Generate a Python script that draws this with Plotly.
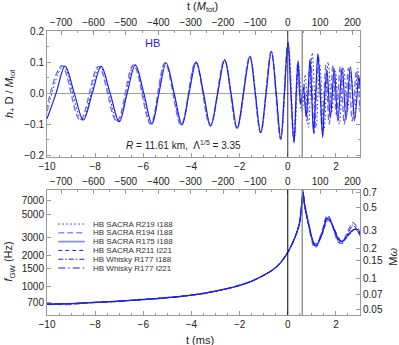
import math
import plotly.graph_objects as go

# ---------------- data ----------------
M_TOT_MS = 0.01345          # one M_tot expressed in ms (top axes)
M_TOT_S = M_TOT_MS * 1e-3   # in seconds (M omega axis)
t_merger = 0.0
t_fpeak = 0.6

# top panel: h+ D / M_tot   (SACRA R175 I188, solid)
t_h_R175 = [-10.0, -9.62, -9.25, -8.87, -8.49, -8.12, -7.75, -7.38, -7.0, -6.67, -6.33, -5.98,
            -5.64, -5.35, -5.05, -4.72, -4.39, -4.10, -3.80, -3.50, -3.20, -2.91, -2.62, -2.36,
            -2.10, -1.84, -1.57, -1.35, -1.125, -0.90, -0.68, -0.48, -0.29, -0.14, 0.01, 0.13,
            0.26, 0.35, 0.43, 0.49, 0.54, 0.65, 0.76, 0.84, 0.92, 0.99, 1.07, 1.16, 1.25, 1.35,
            1.45, 1.54, 1.63, 1.77, 1.93, 2.08, 2.26, 2.42, 2.60, 2.78, 2.95, 3.0]
h_R175 = [-0.083, 0.0, 0.087, 0.0, -0.087, 0.0, 0.086, 0.0, -0.092, 0.0, 0.091, 0.0,
          -0.099, 0.0, 0.097, 0.0, -0.102, 0.0, 0.100, 0.0, -0.105, 0.0, 0.107, 0.0,
          -0.113, 0.0, 0.118, 0.0, -0.127, 0.0, 0.134, 0.0, -0.148, 0.0, 0.165, 0.0,
          -0.160, 0.0, 0.104, 0.0, -0.036, 0.018, -0.074, 0.0, 0.107, 0.0, -0.128, 0.0, 0.127, 0.0,
          -0.143, 0.0, 0.070, -0.080, 0.077, -0.090, 0.082, -0.085, 0.085, -0.085, 0.055, 0.02]

# SACRA R194 I188 (dashed)
t_h_R194 = [-10.12, -9.38, -8.62, -7.86, -7.10, -6.41, -5.70, -5.10, -4.43, -3.83, -3.22, -2.63,
            -2.11, -1.58, -1.13, -0.69, -0.30, 0.0, 0.25, 0.42, 0.55, 0.67, 0.79, 0.95, 1.10,
            1.27, 1.43, 1.58, 1.72, 1.88, 2.02, 2.18, 2.35, 2.52, 2.68, 2.85, 3.0]
h_R194 = [-0.085, 0.088, -0.088, 0.086, -0.092, 0.091, -0.099, 0.097, -0.102, 0.100, -0.105, 0.107,
          -0.114, 0.118, -0.127, 0.134, -0.149, 0.162, -0.155, 0.100, -0.050, 0.030, -0.090, 0.110, -0.130,
          0.120, -0.120, 0.090, -0.100, 0.090, -0.070, 0.085, -0.100, 0.080, -0.090, 0.070, -0.060]

# SACRA R219 I188 (dotted)
t_h_R219 = [-10.06, -9.31, -8.55, -7.80, -7.05, -6.37, -5.67, -5.07, -4.41, -3.81, -3.21, -2.62,
            -2.10, -1.57, -1.12, -0.68, -0.29, 0.02, 0.27, 0.45, 0.60, 0.72, 0.86, 1.02, 1.18,
            1.33, 1.50, 1.68, 1.83, 1.98, 2.14, 2.32, 2.48, 2.62, 2.76, 2.90, 3.02]
h_R219 = [-0.083, 0.087, -0.087, 0.086, -0.092, 0.091, -0.099, 0.097, -0.102, 0.100, -0.105, 0.107,
          -0.113, 0.118, -0.127, 0.134, -0.148, 0.160, -0.150, 0.090, -0.060, 0.060, -0.110, 0.130, -0.110,
          0.090, -0.120, 0.100, -0.060, 0.070, -0.100, 0.080, -0.060, 0.070, -0.090, 0.080, -0.050]

# bottom panel: f_GW (Hz)
t_f = [-10, -9.5, -9, -8.5, -8, -7.5, -7, -6.5, -6, -5.5, -5, -4.5, -4, -3.5, -3, -2.5, -2, -1.5,
       -1, -0.6, -0.3, 0, 0.2, 0.4, 0.5, 0.58, 0.63, 0.7, 0.8, 0.9, 1.0, 1.1, 1.2, 1.3, 1.45,
       1.6, 1.7, 1.8, 1.95, 2.1, 2.25, 2.4, 2.55, 2.7, 2.85, 3.0]
f_R219_I188 = [668, 672, 671, 686, 690, 706, 712, 728, 738, 758, 770, 795, 815, 852, 892, 952, 1020, 1120,
               1280, 1460, 1700, 2150, 2650, 3500, 4300, 6400, 8300, 6200, 4700, 3700, 2950, 2550, 2600, 2900, 3500,
               4600, 4700, 4300, 3400, 2850, 2700, 3000, 3500, 3850, 3750, 3300]
f_R194_I188 = [672, 664, 660, 680, 697, 700, 708, 731, 745, 752, 778, 790, 822, 848, 898, 948, 1022, 1118,
               1280, 1460, 1700, 2150, 2650, 3500, 4300, 6600, 8700, 6400, 4900, 3600, 2800, 2400, 2450, 2850, 3600,
               4800, 4900, 4300, 3300, 2700, 2650, 3100, 3700, 4200, 3900, 3400]
f_R175_I188 = [665, 670, 676, 684, 693, 703, 714, 726, 740, 755, 772, 792, 818, 850, 895, 950, 1020, 1120,
               1280, 1460, 1700, 2150, 2650, 3500, 4300, 6500, 8500, 6300, 4800, 3800, 3000, 2550, 2500, 2750, 3400,
               4500, 4600, 4200, 3500, 2900, 2750, 2950, 3300, 3550, 3600, 3150]
f_R211_I221 = [662, 675, 672, 688, 692, 706, 716, 724, 742, 757, 770, 794, 816, 852, 893, 952, 1018, 1122,
               1280, 1460, 1700, 2150, 2650, 3500, 4300, 6200, 8000, 6000, 4600, 3700, 3000, 2650, 2600, 2800, 3300,
               4200, 4400, 4200, 3600, 3000, 2800, 2900, 3200, 3500, 3700, 3400]
f_W_R177_I188 = [660, 666, 678, 682, 695, 701, 718, 724, 742, 753, 775, 790, 820, 848, 896, 948, 1022, 1118,
                 1280, 1460, 1700, 2150, 2650, 3500, 4300, 6400, 8400, 6300, 4700, 3600, 2900, 2500, 2500, 2800, 3500,
                 4700, 4800, 4300, 3400, 2750, 2600, 2950, 3500, 4000, 3700, 3300]
f_W_R177_I221 = [667, 669, 674, 686, 691, 704, 713, 728, 738, 757, 774, 793, 817, 851, 894, 951, 1020, 1121,
                 1280, 1460, 1700, 2150, 2650, 3500, 4300, 6300, 8200, 6200, 4700, 3750, 3000, 2600, 2550, 2750, 3350,
                 4400, 4550, 4250, 3500, 2950, 2750, 2900, 3250, 3500, 3600, 3250]

series_names = ["HB SACRA R219 I188", "HB SACRA R194 I188", "HB SACRA R175 I188",
                "HB SACRA R211 I221", "HB Whisky R177 I188", "HB Whisky R177 I221"]
series_f = [f_R219_I188, f_R194_I188, f_R175_I188, f_R211_I221, f_W_R177_I188, f_W_R177_I221]

x_ticks_ms = [-10, -8, -6, -4, -2, 0, 2]
x_ticks_M = [-700, -600, -500, -400, -300, -200, -100, 0, 100, 200]
y_ticks_h = [-0.2, -0.1, 0.0, 0.1, 0.2]
y_ticks_f = [700, 1000, 1500, 2000, 3000, 5000, 7000]
y_ticks_Mw = [0.05, 0.07, 0.1, 0.15, 0.2, 0.3, 0.5, 0.7]

# ---------------- styles ----------------
BLUE = "rgb(30,30,235)"
styles = [
    dict(color=BLUE, width=1.0, dash="1.5px,2.5px"),
    dict(color="rgb(110,110,250)", width=1.4, dash="6px,3px"),
    dict(color=BLUE, width=1.2, dash="solid"),
    dict(color=BLUE, width=1.0, dash="4px,3px"),
    dict(color=BLUE, width=1.0, dash="5px,2px,1.5px,2px"),
    dict(color=BLUE, width=1.0, dash="7px,3px,1.5px,3px"),
]
legend_styles = [
    dict(color=BLUE, width=1.0, dash="1.5px,2.5px"),
    dict(color="rgb(140,140,250)", width=1.5, dash="6px,3px"),
    dict(color="rgb(140,140,250)", width=1.8, dash="solid"),
    dict(color=BLUE, width=1.0, dash="4px,3px"),
    dict(color=BLUE, width=1.0, dash="5px,2px,1.5px,2px"),
    dict(color=BLUE, width=1.0, dash="7px,3px,1.5px,3px"),
]
FONT = "Liberation Sans, Arial, sans-serif"
FRAME = "#9a9a9a"
TXT = "#222222"

fig = go.Figure()

# top panel waveforms
fig.add_trace(go.Scatter(x=t_h_R219, y=h_R219, mode="lines", line=styles[0], line_shape="spline",
                         xaxis="x", yaxis="y", showlegend=False, hoverinfo="skip"))
fig.add_trace(go.Scatter(x=t_h_R194, y=h_R194, mode="lines", line=styles[1], line_shape="spline",
                         xaxis="x", yaxis="y", showlegend=False, hoverinfo="skip"))
fig.add_trace(go.Scatter(x=t_h_R175, y=h_R175, mode="lines", line=styles[2], line_shape="spline",
                         xaxis="x", yaxis="y", showlegend=False, hoverinfo="skip"))

# bottom panel frequencies
for name, fv, st in zip(series_names, series_f, styles):
    fig.add_trace(go.Scatter(x=t_f, y=fv, mode="lines", name=name, line=st,
                             line_shape="spline", line_smoothing=0.7,
                             xaxis="x2", yaxis="y2", showlegend=False, hoverinfo="skip"))

# empty traces so that the secondary (t/M_tot and M omega) axes are drawn
fig.add_trace(go.Scatter(x=[], y=[], xaxis="x3", yaxis="y", showlegend=False, hoverinfo="skip"))
fig.add_trace(go.Scatter(x=[], y=[], xaxis="x4", yaxis="y3", showlegend=False, hoverinfo="skip"))

f_lo, f_hi = 522.0, 8776.0
conv = math.log10(2 * math.pi * M_TOT_S)

tickfont = dict(family=FONT, size=10, color=TXT)
titlefont = dict(family=FONT, size=11, color=TXT)
common_x = dict(range=[-10, 3], tickvals=x_ticks_ms, ticks="inside", ticklen=4, tickcolor=FRAME,
                showline=True, linecolor=FRAME, linewidth=1, showgrid=False, zeroline=False,
                automargin=False,
                minor=dict(dtick=0.5, ticks="inside", ticklen=2, tickcolor=FRAME),
                tickfont=tickfont)
common_top = dict(range=[-10 / M_TOT_MS, 3 / M_TOT_MS], tickvals=x_ticks_M, side="top",
                  ticks="inside", ticklen=4, tickcolor=FRAME, showline=True, linecolor=FRAME,
                  showgrid=False, zeroline=False, autorange=False, automargin=False,
                  minor=dict(dtick=50, ticks="inside", ticklen=2, tickcolor=FRAME),
                  tickfont=tickfont)

fig.update_layout(
    width=399, height=345,
    margin=dict(l=47, r=39, t=31, b=30, autoexpand=False),
    paper_bgcolor="white", plot_bgcolor="white",
    font=dict(family=FONT, size=10, color=TXT),
    xaxis=dict(**common_x, anchor="y", domain=[0, 1]),
    yaxis=dict(range=[-0.206, 0.2], domain=[0.556, 1], tickvals=y_ticks_h, tickformat=".1f",
               ticks="inside", ticklen=4, tickcolor=FRAME, showline=True, linecolor=FRAME,
               mirror="ticks", showgrid=False, zeroline=True, zerolinecolor="#a0a0a0", zerolinewidth=1,
               minor=dict(dtick=0.05, ticks="inside", ticklen=2, tickcolor=FRAME),
               tickfont=tickfont, anchor="x", automargin=False),
    xaxis3=dict(**common_top, overlaying="x", anchor="y"),
    xaxis2=dict(**common_x, anchor="y2", domain=[0, 1]),
    xaxis4=dict(**common_top, overlaying="x2", anchor="y2"),
    yaxis2=dict(type="log", range=[math.log10(f_lo), math.log10(f_hi)], domain=[0, 0.44],
                tickvals=y_ticks_f, ticktext=[str(v) for v in y_ticks_f],
                ticks="inside", ticklen=4, tickcolor=FRAME, showline=True, linecolor=FRAME,
                showgrid=False, zeroline=False, tickfont=tickfont, anchor="x2", automargin=False),
    yaxis3=dict(type="log", range=[math.log10(f_lo) + conv, math.log10(f_hi) + conv], autorange=False,
                overlaying="y2", side="right", anchor="x2", automargin=False,
                tickvals=y_ticks_Mw, ticktext=[str(v) for v in y_ticks_Mw],
                ticks="inside", ticklen=4, tickcolor=FRAME, showline=True, linecolor=FRAME,
                showgrid=False, zeroline=False, tickfont=tickfont),
)

# axis titles placed as paper annotations
axis_titles = [
    ("t (<i>M</i><sub>tot</sub>)", 0.498, 1.085, 0),
    ("<i>h</i><sub>+</sub> D / <i>M</i><sub>tot</sub>", -0.118, 0.778, -90),
    ("<i>f</i><sub>GW</sub> (Hz)", -0.12, 0.19, -90),
    ("t (ms)", 0.489, -0.088, 0),
    ("M<i>ω</i>", 1.105, 0.205, -90),
]
for txt, xp, yp, ang in axis_titles:
    fig.add_annotation(xref="paper", yref="paper", x=xp, y=yp, text=txt, showarrow=False,
                       textangle=ang, xanchor="center", yanchor="middle", font=titlefont)

# reference vertical lines (merger and frequency peak)
for xr in ("x", "x2"):
    yr = "y domain" if xr == "x" else "y2 domain"
    fig.add_shape(type="line", xref=xr, yref=yr, x0=t_merger, x1=t_merger, y0=0, y1=1,
                  line=dict(color="#333333" if xr == "x" else "black", width=1))
    fig.add_shape(type="line", xref=xr, yref=yr, x0=t_fpeak, x1=t_fpeak, y0=0, y1=1,
                  line=dict(color="#808080", width=1.2))

# text annotations in the top panel
fig.add_annotation(x=-5.6, y=0.162, xref="x", yref="y", text="HB", showarrow=False,
                   font=dict(family=FONT, size=11, color="rgb(40,40,240)"))
fig.add_annotation(x=-4.33, y=-0.167, xref="x", yref="y", showarrow=False,
                   text="<i>R</i> = 11.61 km,  Λ<sup>1/5</sup> = 3.35",
                   font=dict(family=FONT, size=10, color=TXT))

# compact legend drawn inside the bottom panel
leg_top, leg_step = 0.728, 0.0704
leg_x0, leg_x1, leg_xt = 0.036, 0.121, 0.140
for i, (name, st) in enumerate(zip(series_names, legend_styles)):
    yy = leg_top - i * leg_step
    fig.add_shape(type="line", xref="x2 domain", yref="y2 domain", x0=leg_x0, x1=leg_x1, y0=yy, y1=yy,
                  line=st)
    fig.add_annotation(xref="x2 domain", yref="y2 domain", x=leg_xt, y=yy, text=name, showarrow=False,
                       xanchor="left", yanchor="middle", font=dict(family=FONT, size=8, color="#333333"))

fig.write_html("out.html", config={"displayModeBar": False},
               post_script="document.body.style.margin='0';document.body.style.overflow='hidden';")
